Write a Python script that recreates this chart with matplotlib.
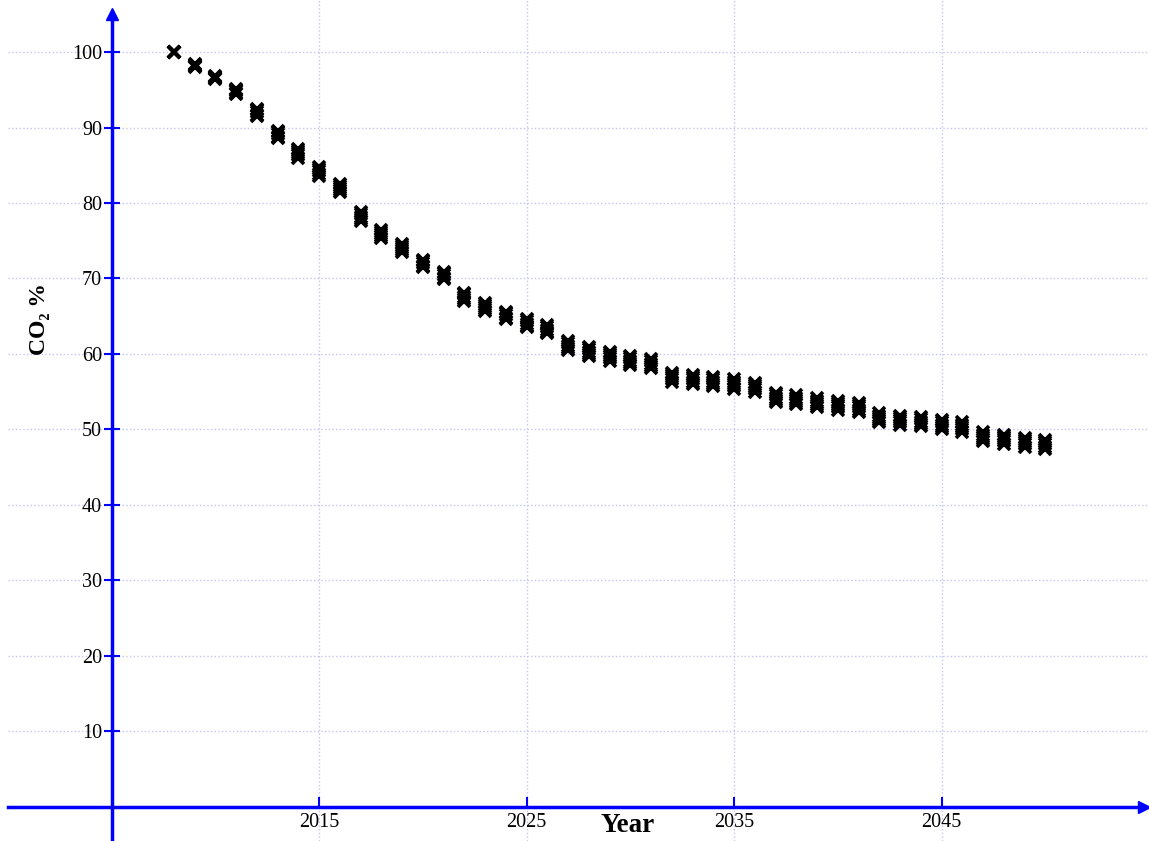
import matplotlib
matplotlib.use("Agg")
import matplotlib.pyplot as plt

years = list(range(2008, 2051))
co2_high = [100.0, 98.4, 96.8, 95.1, 92.5, 89.6, 87.2, 84.8, 82.5, 78.8, 76.4, 74.5, 72.5, 70.9,
            68.1, 66.8, 65.6, 64.6, 63.8, 61.7, 60.9, 60.3, 59.7, 59.3, 57.5, 57.2, 56.9, 56.6,
            56.2, 54.8, 54.5, 54.1, 53.8, 53.5, 52.1, 51.8, 51.6, 51.2, 50.9, 49.6, 49.3, 48.9, 48.6]
co2_upper = [100.0, 98.3, 96.7, 95.0, 92.3, 89.4, 86.9, 84.5, 82.3, 78.5, 76.2, 74.3, 72.3, 70.7,
             67.9, 66.5, 65.4, 64.3, 63.5, 61.4, 60.6, 60.0, 59.4, 59.0, 57.2, 56.9, 56.6, 56.3,
             55.9, 54.5, 54.2, 53.8, 53.5, 53.2, 51.8, 51.5, 51.3, 50.9, 50.6, 49.3, 49.0, 48.6, 48.3]
co2_mid = [100.0, 98.2, 96.6, 94.8, 92.0, 89.1, 86.6, 84.2, 82.0, 78.2, 75.9, 74.0, 72.0, 70.4,
           67.6, 66.2, 65.1, 64.0, 63.2, 61.1, 60.3, 59.7, 59.1, 58.7, 56.9, 56.6, 56.3, 56.0,
           55.6, 54.2, 53.9, 53.5, 53.2, 52.9, 51.5, 51.2, 51.0, 50.6, 50.3, 49.0, 48.7, 48.3, 48.0]
co2_lower = [100.0, 98.1, 96.5, 94.6, 91.7, 88.8, 86.3, 83.9, 81.7, 77.9, 75.6, 73.7, 71.7, 70.1,
             67.3, 65.9, 64.8, 63.7, 62.9, 60.8, 60.0, 59.4, 58.8, 58.4, 56.6, 56.3, 56.0, 55.7,
             55.3, 53.9, 53.6, 53.2, 52.9, 52.6, 51.2, 50.9, 50.7, 50.3, 50.0, 48.7, 48.4, 48.0, 47.7]
co2_low = [100.0, 98.0, 96.4, 94.5, 91.5, 88.6, 86.0, 83.6, 81.5, 77.6, 75.4, 73.5, 71.5, 69.9,
           67.0, 65.7, 64.6, 63.5, 62.7, 60.5, 59.7, 59.1, 58.5, 58.1, 56.3, 56.0, 55.7, 55.4,
           55.0, 53.6, 53.3, 52.9, 52.6, 52.3, 50.9, 50.6, 50.4, 50.0, 49.7, 48.4, 48.1, 47.7, 47.4]
x_ticks = [2015, 2025, 2035, 2045]
y_ticks = [10, 20, 30, 40, 50, 60, 70, 80, 90, 100]

plt.rcParams['font.family'] = ['Liberation Serif', 'DejaVu Serif']

fig = plt.figure(figsize=(11.49, 8.41), dpi=100)
ax = fig.add_axes([8 / 1149, 0, 1 - 8 / 1149, 1])
ax.set_xlim(2000, 2055)
ax.set_ylim(-4.57, 106.9)

blue = '#0000ff'
grid_c = '#c4c4f4'

for s in ('top', 'right'):
    ax.spines[s].set_visible(False)
ax.spines['left'].set_position(('data', 2005))
ax.spines['bottom'].set_position(('data', 0))
for s in ('left', 'bottom'):
    ax.spines[s].set_color(blue)
    ax.spines[s].set_linewidth(2.5)
ax.spines['left'].set_bounds(-4.57, 104.8)
ax.spines['bottom'].set_bounds(2000, 2054.4)
ax.plot([2005], [105.1], marker='^', color=blue, markersize=9, clip_on=False, zorder=5)
ax.plot([2054.75], [0], marker='>', color=blue, markersize=9, clip_on=False, zorder=5)

ax.set_xticks(x_ticks)
ax.set_yticks(y_ticks)
ax.set_xticklabels([str(v) for v in x_ticks])
ax.set_yticklabels([str(v) for v in y_ticks])
ax.tick_params(axis='x', direction='in', length=7, width=1.5, color=blue, pad=5, labelsize=14.5)
ax.tick_params(axis='y', direction='inout', length=12, width=1.5, color=blue, pad=1, labelsize=14.5)

ax.grid(True, linestyle=':', color=grid_c, linewidth=1.0)
ax.set_axisbelow(True)

for series in (co2_high, co2_upper, co2_mid, co2_lower, co2_low):
    ax.plot(years, series, linestyle='none', marker='x', color='black',
            markersize=9, markeredgewidth=2.6, zorder=4)

fig.text(628 / 1149, 1 - 825 / 841, 'Year', ha='center', va='center',
         fontsize=19.5, fontweight='bold')
fig.text(40 / 1149, 1 - 319 / 841, 'CO₂ %', ha='center', va='center',
         rotation=90, fontsize=17, fontweight='bold')

fig.savefig('out.png', dpi=100)
